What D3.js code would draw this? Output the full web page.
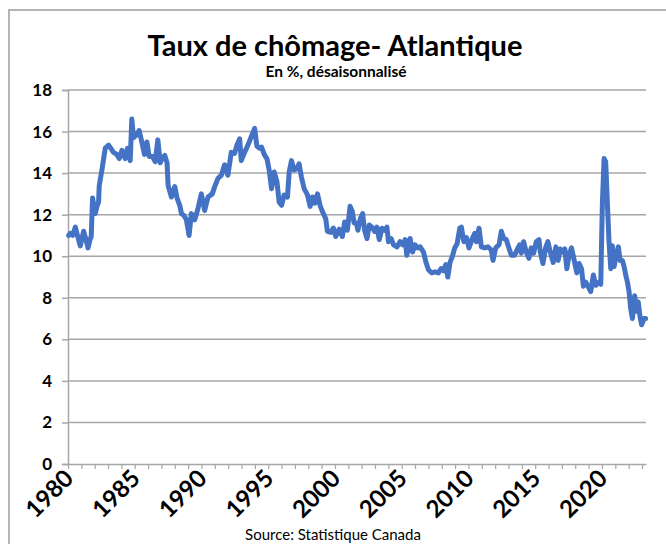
<!DOCTYPE html>
<html>
<head>
<meta charset="utf-8">
<script src="https://cdn.jsdelivr.net/npm/d3@7"></script>
<style>
  body { margin: 0; background: #fff; }
  svg { display: block; font-family: Lato, "Open Sans", sans-serif; }
</style>
</head>
<body>
<script>
// monthly-ish readings (decimal year) and unemployment rate in %
var periods = [1980.05, 1980.17, 1980.35, 1980.55, 1980.75, 1980.92, 1981.17, 1981.35, 1981.5, 1981.65,
  1981.74, 1981.84, 1982.04, 1982.17, 1982.29, 1982.34, 1982.54, 1982.79, 1983.04, 1983.2,
  1983.41, 1983.66, 1983.84, 1984.04, 1984.29, 1984.46, 1984.66, 1984.78, 1984.91, 1985.16,
  1985.33, 1985.53, 1985.73, 1985.91, 1986.08, 1986.33, 1986.53, 1986.73, 1986.91, 1987.05,
  1987.25, 1987.42, 1987.5, 1987.75, 1988.0, 1988.17, 1988.37, 1988.5, 1988.7, 1988.87,
  1989.07, 1989.24, 1989.49, 1989.74, 1989.99, 1990.24, 1990.49, 1990.81, 1990.99, 1991.24,
  1991.49, 1991.73, 1991.98, 1992.23, 1992.48, 1992.66, 1992.86, 1992.98, 1993.23, 1993.48,
  1993.73, 1993.98, 1994.15, 1994.33, 1994.5, 1994.7, 1994.9, 1995.07, 1995.25, 1995.45,
  1995.65, 1995.82, 1996.0, 1996.19, 1996.44, 1996.57, 1996.74, 1996.94, 1997.14, 1997.31,
  1997.49, 1997.69, 1997.94, 1998.14, 1998.31, 1998.49, 1998.69, 1998.88, 1999.06, 1999.31,
  1999.43, 1999.68, 1999.88, 2000.06, 2000.31, 2000.55, 2000.73, 2000.93, 2001.13, 2001.3,
  2001.43, 2001.6, 2001.72, 2001.9, 2002.07, 2002.22, 2002.4, 2002.57, 2002.77, 2002.97,
  2003.14, 2003.32, 2003.52, 2003.72, 2003.89, 2004.01, 2004.21, 2004.39, 2004.64, 2004.88,
  2005.06, 2005.26, 2005.38, 2005.63, 2005.81, 2006.0, 2006.2, 2006.38, 2006.63, 2006.8,
  2007.0, 2007.25, 2007.5, 2007.75, 2007.95, 2008.12, 2008.3, 2008.45, 2008.62, 2008.8,
  2008.97, 2009.15, 2009.35, 2009.47, 2009.65, 2009.85, 2010.04, 2010.29, 2010.47, 2010.59,
  2010.79, 2010.97, 2011.21, 2011.46, 2011.71, 2011.84, 2012.04, 2012.29, 2012.46, 2012.64,
  2012.83, 2013.03, 2013.21, 2013.46, 2013.71, 2013.83, 2013.96, 2014.13, 2014.33, 2014.53,
  2014.7, 2014.88, 2015.08, 2015.28, 2015.38, 2015.58, 2015.78, 2015.95, 2016.13, 2016.35,
  2016.55, 2016.72, 2016.87, 2017.05, 2017.22, 2017.37, 2017.55, 2017.72, 2017.92, 2018.12,
  2018.29, 2018.47, 2018.61, 2018.79, 2018.96, 2019.16, 2019.36, 2019.53, 2019.78, 2019.91,
  2020.03, 2020.16, 2020.28, 2020.41, 2020.53, 2020.66, 2020.78, 2020.91, 2021.03, 2021.23,
  2021.36, 2021.53, 2021.66, 2021.78, 2021.91, 2022.03, 2022.15, 2022.28, 2022.45, 2022.6,
  2022.72, 2022.85, 2022.97, 2023.15, 2023.27];

var rates = [11.0, 11.1, 11.0, 11.4, 10.9, 10.5, 11.2, 10.8, 10.4, 10.8,
  10.95, 12.8, 12.05, 12.4, 12.6, 13.4, 14.15, 15.2, 15.35, 15.2,
  15.0, 14.9, 14.7, 15.1, 14.7, 15.2, 14.6, 16.6, 15.7, 15.85,
  16.05, 15.5, 14.9, 15.5, 14.8, 14.8, 14.55, 15.6, 14.5, 14.7,
  14.85, 14.5, 13.4, 12.85, 13.35, 12.8, 12.45, 12.05, 11.95, 11.75,
  11.0, 12.05, 11.75, 12.3, 13.0, 12.2, 12.85, 13.0, 13.35, 13.75,
  13.9, 14.4, 13.9, 15.0, 14.95, 15.35, 15.65, 14.6, 15.0, 15.35,
  15.75, 16.15, 15.3, 15.2, 15.25, 14.9, 14.7, 14.15, 13.25, 14.05,
  13.6, 12.6, 12.45, 12.95, 12.85, 14.05, 14.6, 14.15, 14.2, 14.45,
  13.8, 13.25, 12.95, 12.4, 12.85, 12.55, 13.0, 12.45, 12.15, 11.8,
  11.2, 11.15, 11.35, 10.95, 11.3, 10.95, 11.65, 11.25, 12.4, 12.15,
  11.6, 11.6, 11.25, 11.8, 12.05, 11.25, 10.85, 11.5, 11.4, 11.2,
  11.4, 10.8, 11.35, 11.25, 11.4, 10.7, 10.85, 10.55, 10.45, 10.7,
  10.55, 10.8, 10.05, 10.85, 10.2, 10.55, 10.4, 10.45, 10.2, 9.75,
  9.35, 9.2, 9.25, 9.2, 9.4, 9.3, 9.6, 9.0, 9.7, 10.0,
  10.4, 10.6, 11.35, 11.4, 10.7, 10.9, 10.4, 10.85, 11.1, 10.7,
  11.35, 10.45, 10.4, 10.45, 10.3, 9.8, 10.4, 10.55, 11.2, 10.85,
  10.8, 10.4, 10.05, 10.05, 10.4, 10.55, 10.15, 10.7, 10.2, 9.9,
  10.4, 10.15, 10.7, 10.8, 10.2, 9.65, 10.4, 10.7, 10.2, 9.7,
  10.45, 9.8, 10.35, 10.2, 10.35, 9.4, 10.1, 10.4, 9.8, 9.2,
  9.65, 9.4, 8.55, 8.75, 8.55, 8.3, 9.1, 8.6, 8.75, 8.65,
  12.5, 14.7, 14.55, 12.5, 10.7, 9.4, 10.5, 9.5, 9.9, 10.45,
  9.8, 9.8, 9.5, 9.1, 8.75, 8.3, 7.5, 7.0, 8.1, 7.35,
  7.8, 7.1, 6.7, 7.0, 7.0];

var yTicks = [0, 2, 4, 6, 8, 10, 12, 14, 16, 18];
var yearLabels = [1980, 1985, 1990, 1995, 2000, 2005, 2010, 2015, 2020];
var title = "Taux de chômage- Atlantique";
var subtitle = "En %, désaisonnalisé";
var source = "Source: Statistique Canada";

var W = 666, H = 544;
var margin = { top: 90, right: 20, bottom: 80, left: 68 },
    width = W - margin.left - margin.right,
    height = H - margin.top - margin.bottom;

var x = d3.scaleLinear().domain([1980, 2023.3]).range([0, width]);
var y = d3.scaleLinear().domain([0, 18]).range([height, 0]);

var data = periods.map(function (p, i) {
  return { t: p, v: rates[i] };
});

var svg = d3.select("body").append("svg").attr("width", W).attr("height", H);

// outer frame of the chart object
svg.append("rect").attr("x", 9).attr("y", 10).attr("width", 700).attr("height", 600)
  .attr("fill", "#fff").attr("stroke", "#b4b4b4").attr("stroke-width", 2);

svg.append("text").attr("x", 335).attr("y", 56).attr("text-anchor", "middle")
  .attr("font-size", 29).attr("font-weight", "bold").attr("fill", "#000").text(title);
svg.append("text").attr("x", 336).attr("y", 77).attr("text-anchor", "middle")
  .attr("font-size", 15.5).attr("font-weight", "bold").attr("fill", "#000").text(subtitle);

var g = svg.append("g").attr("transform", "translate(" + margin.left + "," + margin.top + ")");

// horizontal grid
g.append("g").selectAll("line").data(yTicks.slice(1)).enter().append("line")
  .attr("x1", 0).attr("x2", width)
  .attr("y1", function (d) { return y(d); }).attr("y2", function (d) { return y(d); })
  .attr("stroke", "#a6a6a6").attr("stroke-width", 1.5);

// y axis
var yAxis = g.append("g").call(d3.axisLeft(y).tickValues(yTicks).tickSize(6).tickPadding(10));
yAxis.select(".domain").attr("stroke", "#a6a6a6").attr("stroke-width", 1.5);
yAxis.selectAll(".tick line").attr("stroke", "#a6a6a6").attr("stroke-width", 1.5);
yAxis.selectAll("text").attr("font-family", "Lato, sans-serif").attr("font-size", 17)
  .attr("font-weight", "bold").attr("fill", "#000");

// x axis, one tick per year, labels every 5 years
var years = d3.range(1980, 2024);
var xAxis = g.append("g").attr("transform", "translate(0," + height + ")")
  .call(d3.axisBottom(x).tickValues(years).tickSize(5).tickSizeOuter(0).tickFormat(""));
xAxis.select(".domain").attr("stroke", "#a6a6a6").attr("stroke-width", 1.5);
xAxis.selectAll(".tick line").attr("stroke", "#a6a6a6").attr("stroke-width", 1.2);

g.append("g").selectAll("text").data(yearLabels).enter().append("text")
  .attr("x", function (d) { return x(d) + 1; })
  .attr("y", height + 10)
  .attr("transform", function (d) {
    return "rotate(-45," + (x(d) + 1) + "," + (height + 10) + ")";
  })
  .attr("text-anchor", "end").attr("dy", "0.35em")
  .attr("font-size", 24).attr("font-weight", "bold").attr("fill", "#000")
  .text(function (d) { return d; });

// the series
var line = d3.line().x(function (d) { return x(d.t); }).y(function (d) { return y(d.v); });
g.append("path").datum(data).attr("fill", "none").attr("stroke", "#4472c4")
  .attr("stroke-width", 5).attr("stroke-linejoin", "round").attr("stroke-linecap", "round")
  .attr("d", line);

svg.append("text").attr("x", 333).attr("y", 540).attr("text-anchor", "middle")
  .attr("font-size", 15).attr("fill", "#000").text(source);
</script>
</body>
</html>
